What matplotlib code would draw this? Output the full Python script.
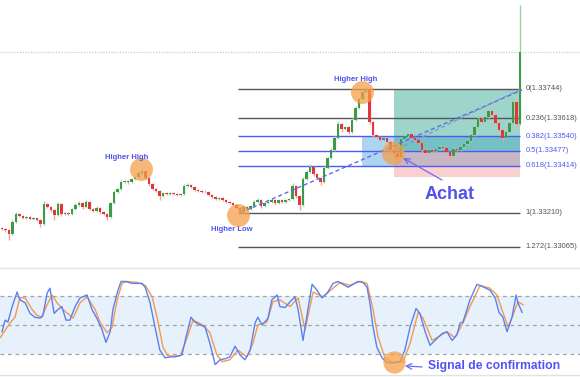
import matplotlib
matplotlib.use('Agg')
import matplotlib.pyplot as plt
from matplotlib.patches import Rectangle
import numpy as np

# EURUSD-like candles (close of each bar)
first_open = 1.33146
closes = [
    1.33141, 1.33137, 1.33120, 1.33171, 1.33206, 1.33197, 1.33189, 1.33192, 1.33184, 1.33187,
    1.33180, 1.33163, 1.33249, 1.33236, 1.33223, 1.33201, 1.33249, 1.33206, 1.33210, 1.33206,
    1.33227, 1.33245, 1.33253, 1.33236, 1.33257, 1.33227, 1.33219, 1.33232, 1.33214, 1.33206,
    1.33193, 1.33253, 1.33300, 1.33313, 1.33344, 1.33348, 1.33344, 1.33356, 1.33365, 1.33382,
    1.33391, 1.33361, 1.33335, 1.33313, 1.33305, 1.33283, 1.33296, 1.33292, 1.33296, 1.33292,
    1.33288, 1.33292, 1.33326, 1.33331, 1.33322, 1.33309, 1.33305, 1.33300, 1.33302, 1.33288,
    1.33279, 1.33270, 1.33275, 1.33266, 1.33257, 1.33253, 1.33245, 1.33232, 1.33214, 1.33236,
    1.33227, 1.33240, 1.33257, 1.33266, 1.33240, 1.33253, 1.33257, 1.33266, 1.33253, 1.33266,
    1.33257, 1.33266, 1.33270, 1.33326, 1.33283, 1.33245, 1.33356, 1.33387, 1.33408, 1.33378,
    1.33361, 1.33344, 1.33404, 1.33447, 1.33481, 1.33533, 1.33593, 1.33572, 1.33580, 1.33559,
    1.33611, 1.33662, 1.33701, 1.33731, 1.33740, 1.33602, 1.33546, 1.33537, 1.33524, 1.33533,
    1.33516, 1.33481, 1.33468, 1.33451, 1.33529, 1.33542, 1.33550, 1.33533, 1.33524, 1.33511,
    1.33481, 1.33468, 1.33481, 1.33477, 1.33486, 1.33494, 1.33490, 1.33473, 1.33456, 1.33486,
    1.33481, 1.33494, 1.33507, 1.33520, 1.33546, 1.33580, 1.33615, 1.33602, 1.33623, 1.33649,
    1.33632, 1.33598, 1.33568, 1.33533, 1.33559, 1.33598, 1.33688, 1.33593, 1.33903]
# wicks in points (1e-5)
wick_up = [
    5, 4, 6, 8, 10, 4, 5, 3, 4, 5,
    3, 4, 12, 6, 5, 4, 10, 5, 4, 6,
    5, 8, 10, 4, 8, 5, 4, 6, 3, 4,
    4, 6, 8, 5, 10, 6, 4, 5, 6, 8,
    10, 5, 4, 3, 5, 4, 6, 4, 3, 5,
    4, 3, 8, 6, 5, 4, 3, 4, 5, 4,
    3, 5, 4, 3, 4, 3, 5, 4, 3, 6,
    4, 5, 8, 10, 4, 5, 6, 8, 4, 5,
    4, 6, 5, 14, 6, 4, 10, 8, 12, 5,
    4, 3, 8, 6, 10, 8, 12, 6, 5, 4,
    8, 10, 6, 8, 12, 5, 4, 5, 6, 4,
    4, 3, 5, 4, 8, 10, 6, 5, 4, 3,
    4, 5, 4, 6, 5, 8, 4, 3, 4, 6,
    5, 4, 6, 5, 8, 10, 12, 8, 10, 8,
    6, 4, 3, 5, 8, 10, 12, 6, 203]
wick_dn = [
    6, 8, 26, 5, 4, 6, 4, 5, 6, 4,
    5, 15, 4, 6, 8, 20, 5, 10, 6, 4,
    5, 4, 3, 8, 4, 6, 5, 4, 8, 6,
    15, 5, 4, 6, 5, 4, 8, 5, 4, 3,
    4, 6, 8, 6, 5, 15, 6, 4, 5, 4,
    6, 5, 4, 5, 6, 4, 5, 4, 3, 6,
    5, 4, 6, 5, 4, 6, 5, 6, 10, 5,
    6, 4, 5, 4, 10, 5, 4, 6, 8, 5,
    6, 4, 5, 6, 8, 20, 5, 4, 6, 8,
    6, 12, 5, 4, 6, 5, 4, 12, 6, 8,
    5, 4, 6, 5, 4, 10, 8, 6, 5, 6,
    5, 8, 6, 15, 5, 4, 6, 5, 4, 6,
    8, 6, 5, 4, 6, 5, 4, 6, 12, 5,
    4, 6, 5, 4, 5, 4, 6, 5, 4, 5,
    6, 8, 6, 12, 5, 4, 6, 8, 4]

fib_ratios = ['0', '0.236', '0.382', '0.5', '0.618', '1', '1.272']
fib_prices = [1.33744, 1.33618, 1.33540, 1.33477, 1.33414, 1.33210, 1.33065]
current_price = 1.33903
entry_price = 1.33473
target_price = 1.33744
stop_price = 1.33365

swing_bars = [39.6, 102.9, 67.4, 111.8]
swing_prices = [1.33398, 1.33731, 1.33201, 1.33467]

# stochastic %K (blue) and %D (orange)
k_bars = [0, 0.9, 1.7, 2.9, 4.3, 5.1, 6.6, 8, 9.4, 10.9,
          11.7, 12.9, 13.7, 14.9, 16, 17.1, 18.3, 19.4, 20.9, 22.3,
          24.3, 25.7, 27.1, 28.6, 29.7, 30.9, 31.7, 32.9, 34, 35.4,
          37.1, 38.9, 40, 40.9, 42.3, 43.7, 45.1, 46.6, 48, 49.4,
          51.4, 52.6, 54, 55.1, 56.6, 58, 59.4, 60.9, 62.3, 63.7,
          65.1, 66.6, 68, 69.4, 70.9, 72.3, 73.1, 74.3, 76, 77.1,
          78.6, 79.4, 80.9, 82.3, 83.7, 84.6, 86, 87.4, 88.6, 90,
          91.4, 92.9, 94.6, 96, 97.4, 98.9, 100.3, 101.7, 103.1, 104.3,
          105.1, 106, 107.1, 108.6, 110, 111.7, 113.7, 115.1, 116.6, 118.3,
          119.4, 120.9, 122.3, 123.7, 125.7, 127.1, 128.6, 130, 130.9, 131.7,
          133.7, 135.7, 137.1, 139.4, 140.9, 142, 143.1, 144.3, 145.7, 146.9,
          147.4, 148.6]
k_vals = [43, 55, 53, 69, 84, 76, 73, 62, 58, 57,
          60, 83, 88, 62, 66, 69, 55, 55, 69, 78,
          81, 66, 57, 45, 32, 43, 66, 83, 95, 95,
          93, 93, 93, 89, 73, 48, 24, 16, 17, 17,
          19, 38, 58, 53, 50, 48, 31, 9, 14, 15,
          17, 28, 19, 14, 24, 52, 58, 50, 57, 76,
          81, 69, 68, 74, 79, 66, 34, 66, 92, 86,
          78, 83, 93, 95, 92, 89, 92, 95, 94, 89,
          73, 48, 27, 16, 11, 11, 12, 24, 48, 67,
          62, 43, 29, 34, 41, 43, 34, 40, 52, 53,
          76, 92, 90, 86, 78, 63, 58, 43, 58, 81,
          73, 63]
d_bars = [-0.5, 2.3, 3.7, 5.1, 6.6, 8.6, 10, 11.4, 12.9, 14.3,
          15.7, 17.4, 19.4, 20.3, 22.3, 24.3, 26.6, 28, 30, 31.4,
          32.9, 34.3, 35.7, 38.6, 40.9, 42.9, 44.3, 46, 47.4, 50.9,
          52.3, 54.6, 57.4, 59.4, 61.4, 62.9, 65.1, 67.4, 70, 71.7,
          73.1, 75.7, 77.4, 79.4, 82.3, 84.6, 86.6, 88.9, 91.7, 94.6,
          96.6, 99.4, 102.3, 104.3, 106, 107.4, 109.4, 111.7, 114.6, 116.6,
          118.9, 120.3, 122.9, 124.3, 127.1, 129.4, 131.7, 133.7, 136.6, 139.4,
          141.4, 143.1, 144.6, 146, 147.4, 148.9]
d_vals = [37, 52, 58, 78, 78, 66, 60, 58, 71, 81,
          73, 66, 60, 57, 73, 79, 66, 53, 42, 47,
          76, 93, 95, 94, 91, 79, 58, 27, 18, 18,
          31, 55, 50, 42, 19, 12, 14, 24, 17, 31,
          50, 53, 74, 76, 69, 78, 45, 84, 79, 88,
          94, 91, 95, 93, 66, 38, 16, 11, 12, 31,
          63, 57, 34, 37, 43, 37, 52, 69, 91, 88,
          81, 63, 48, 60, 74, 71]

font = ['Liberation Sans', 'DejaVu Sans']
txt_blue = '#5252f2'
orange = '#f5a04a'

fig = plt.figure(figsize=(5.8, 3.77), dpi=100)
ax = fig.add_axes([0, 115 / 377, 1, 262 / 377])
ax2 = fig.add_axes([0, 0, 1, 115 / 377])
for a in (ax, ax2):
    a.set_axis_off()
    a.set_xlim(-0.571, 165.14)
ax.set_ylim(1.32999, 1.34127)
ax2.set_ylim(-3.8, 115.1)

# --- price panel ---
c = np.array(closes)
o = np.array([first_open] + closes[:-1])
idx = np.arange(len(c))
up = c >= o
hi = np.maximum(o, c) + np.array(wick_up) * 1e-5
lo = np.minimum(o, c) - np.array(wick_dn) * 1e-5
body_cols = np.where(up, '#3c9a48', '#e0383a')
wick_cols = np.where(up, '#9fd3a5', '#f2a0a0')
ax.vlines(idx, lo, hi, colors=wick_cols, lw=1.0, zorder=3)
ax.bar(idx, np.maximum(np.abs(c - o), 2e-5), bottom=np.minimum(o, c), width=0.62,
       color=body_cols, lw=0, zorder=4)

ax.axhline(current_price, color='#a8d8a8', lw=0.8, ls=(0, (1, 1.5)), zorder=2)

# position tool boxes
ax.add_patch(Rectangle((102.9, fib_prices[4]), 148 - 102.9, fib_prices[2] - fib_prices[4],
                       facecolor='#5dade2', alpha=0.5, lw=0, zorder=1))
ax.add_patch(Rectangle((112, entry_price), 148 - 112, target_price - entry_price,
                       facecolor='#3dad99', alpha=0.5, lw=0, zorder=1))
ax.add_patch(Rectangle((112, stop_price), 148 - 112, entry_price - stop_price,
                       facecolor='#f08989', alpha=0.4, lw=0, zorder=1))

# fibonacci levels
for r, p in zip(fib_ratios, fib_prices):
    col = '#4c5bf0' if r in ('0.382', '0.5', '0.618') else '#555555'
    ax.hlines(p, 67.4, 148, color=col, lw=1.0, zorder=2)
    ax.text(149.7, p, '%s(%.5f)' % (r, p), color=col, fontsize=5.5, family=font,
            va='center', ha='left', zorder=6)

# trend lines
ax.plot([68, 148.6], [fib_prices[5], 1.33740], color='#5a6cf0', lw=1.0,
        ls=(0, (3, 2)), zorder=5)
ax.plot([113, 148.3], [1.33486, target_price], color='#8a9ac0', lw=1.0,
        ls=(0, (3, 2)), zorder=5)

# swing circles
ax.plot(swing_bars, swing_prices, 'o', ms=16.5, color=orange, alpha=0.75, mec='none', zorder=6)

ax.text(35.7, 1.33451, 'Higher High', color=txt_blue, fontsize=5.5, weight='bold',
        family=font, ha='center', va='center', zorder=7)
ax.text(101.1, 1.33783, 'Higher High', color=txt_blue, fontsize=5.5, weight='bold',
        family=font, ha='center', va='center', zorder=7)
ax.text(65.7, 1.33141, 'Higher Low', color=txt_blue, fontsize=5.5, weight='bold',
        family=font, ha='center', va='center', zorder=7)
ax.text(128, 1.33288, 'Achat', color=txt_blue, fontsize=13, weight='bold',
        family=font, ha='center', va='center', zorder=7)
ax.annotate('', xy=(114.6, 1.33447), xytext=(125.7, 1.33352),
            arrowprops=dict(arrowstyle='->', color='#6b6bef', lw=0.9, shrinkA=0, shrinkB=0),
            zorder=7)

# --- stochastic panel ---
ax2.axhspan(20, 80, color='#e6f1fc', lw=0, zorder=0)
for lvl in (80, 50, 20):
    ax2.axhline(lvl, color='#a3a3a3', lw=0.9, ls=(0, (3, 3)), zorder=1)
ax2.axhline(108.97, color='#e2e2e2', lw=1.0)
ax2.axhline(-1.7, color='#e2e2e2', lw=1.0)
ax2.plot(d_bars, d_vals, color='#f39a4e', lw=1.0, zorder=3)
ax2.plot(k_bars, k_vals, color='#5b80f2', lw=1.0, zorder=4)
ax2.plot([112], [12], 'o', ms=16, color=orange, alpha=0.75, mec='none', zorder=5)
ax2.annotate('', xy=(115.1, 7.6), xytext=(120, 6.6),
             arrowprops=dict(arrowstyle='->', color='#6b6bef', lw=0.9, shrinkA=0, shrinkB=0),
             zorder=6)
ax2.text(121.7, 7.6, 'Signal de confirmation', color=txt_blue, fontsize=8.7,
         weight='bold', family=font, ha='left', va='center', zorder=6)

fig.savefig('out.png', dpi=100)
